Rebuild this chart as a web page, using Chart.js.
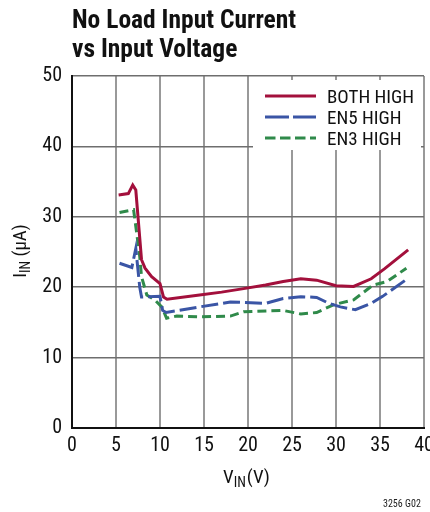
<!DOCTYPE html>
<html><head><meta charset="utf-8">
<script src="https://cdn.jsdelivr.net/npm/chart.js@4"></script>
<style>
html,body{margin:0;padding:0;background:#fff;overflow:hidden;width:430px;height:512px;}
#wrap{position:absolute;left:0;top:0;width:450px;height:512px;}
#title{position:absolute;left:72px;top:5px;font-family:"Roboto Condensed",sans-serif;font-weight:bold;font-size:25.5px;line-height:29px;color:#111;white-space:nowrap;}
#code{position:absolute;left:383px;top:498px;font-family:"Roboto Condensed",sans-serif;font-size:10px;line-height:12px;color:#222;white-space:nowrap;}
</style></head>
<body>
<div id="wrap"><canvas id="c" width="450" height="512"></canvas></div>
<div id="title">No Load Input Current<br>vs Input Voltage</div>
<div id="code">3256 G02</div>
<script>
const FONT = '"Roboto Condensed",sans-serif';
// data
const seriesLabels = ['BOTH HIGH', 'EN5 HIGH', 'EN3 HIGH'];
const bothHighV = [5.3,6.4,6.9,7.25,7.9,8.3,9.05,10,10.4,10.8,14.5,17,19.5,22,24,26,27.8,30,32,34,35.5,38.2];
const bothHighI = [33.1,33.3,34.5,33.8,23.9,22.7,21.5,20.5,18.6,18.3,18.9,19.3,19.8,20.3,20.8,21.2,21.0,20.2,20.1,21.2,22.6,25.3];
const en5HighV = [5.4,6.8,7.25,7.7,7.9,10,10.3,10.7,14.5,18,22,24,26,27.8,29.2,30.5,32.2,34,35.3,38];
const en5HighI = [23.4,22.8,25.5,20,18.6,18.7,16.7,16.4,17.2,17.9,17.7,18.4,18.65,18.55,17.7,17.2,16.8,17.7,18.7,21.1];
const en3HighV = [5.4,7,7.35,7.7,7.9,8.5,9.4,10.2,10.75,11.9,14.5,18,19.5,24,26,27.8,29.7,32,34.2,35.8,38];
const en3HighI = [30.6,31,27.7,24.3,21.5,18.9,18.2,17.2,15.6,15.9,15.8,15.9,16.5,16.7,16.2,16.4,17.5,18.2,20.3,20.8,22.7];
const xTicks = [0,5,10,15,20,25,30,35,40];
const yTicks = [0,10,20,30,40,50];

const pts = (xs, ys) => xs.map((x, i) => ({x, y: ys[i]}));

const legendPlugin = {
  id: 'boxLegend',
  afterDatasetsDraw(chart) {
    const ctx = chart.ctx;
    ctx.save();
    ctx.fillStyle = '#fff';
    ctx.fillRect(253, 80, 168, 70);
    chart.data.datasets.forEach((ds, i) => {
      const y = 96 + i * 21;
      ctx.strokeStyle = ds.borderColor;
      ctx.lineWidth = 3.2;
      ctx.setLineDash(ds.legendDash || []);
      ctx.beginPath(); ctx.moveTo(265, y); ctx.lineTo(316, y); ctx.stroke();
      ctx.setLineDash([]);
      ctx.fillStyle = '#111';
      ctx.font = '19px ' + FONT;
      ctx.textBaseline = 'alphabetic';
      ctx.fillText(ds.label, 327, y + 6.5);
    });
    ctx.restore();
  }
};

const axisTitlePlugin = {
  id: 'axisTitles',
  afterDraw(chart) {
    const ctx = chart.ctx;
    ctx.save();
    ctx.fillStyle = '#111';
    ctx.textBaseline = 'alphabetic';
    const big = '19px ' + FONT, small = '14px ' + FONT;
    // x title
    ctx.font = big; const wV = ctx.measureText('V').width;
    ctx.font = small; const wS = ctx.measureText('IN').width;
    let x = 223;
    const by = 483;
    ctx.font = big; ctx.fillText('V', x, by); x += wV;
    ctx.font = small; ctx.fillText('IN', x, by + 4); x += wS + 1;
    ctx.font = big; ctx.fillText('(V)', x, by);
    // y title
    ctx.translate(26, 251);
    ctx.rotate(-Math.PI / 2);
    ctx.font = big; const wI = ctx.measureText('I').width; const wU = ctx.measureText(' (µA)').width;
    ctx.font = small; const wS2 = ctx.measureText('IN').width;
    let yx = -(wI + wS2 + wU) / 2;
    ctx.font = big; ctx.fillText('I', yx, 0); yx += wI;
    ctx.font = small; ctx.fillText('IN', yx, 4); yx += wS2;
    ctx.font = big; ctx.fillText(' (µA)', yx, 0);
    ctx.restore();
  }
};

new Chart(document.getElementById('c'), {
  type: 'line',
  data: {
    datasets: [
      {label: seriesLabels[0], data: pts(bothHighV, bothHighI), borderColor: '#a3103c', borderWidth: 3},
      {label: seriesLabels[1], data: pts(en5HighV, en5HighI), borderColor: '#3a55a5', borderWidth: 3, borderDash: [17, 5], legendDash: [24, 4]},
      {label: seriesLabels[2], data: pts(en3HighV, en3HighI), borderColor: '#2f8a4a', borderWidth: 3, borderDash: [9, 5], legendDash: [10.5, 4.5]}
    ]
  },
  options: {
    responsive: false,
    animation: false,
    layout: {padding: {top: 76, right: 26, left: 0, bottom: 0}},
    elements: {point: {radius: 0}, line: {tension: 0, fill: false}},
    plugins: {legend: {display: false}, tooltip: {enabled: false}, title: {display: false}},
    scales: {
      x: {
        type: 'linear', min: 0, max: 40,
        afterBuildTicks: s => { s.ticks = xTicks.map(v => ({value: v})); },
        afterFit: s => { s.height = 84; },
        grid: {color: '#999', lineWidth: 2, drawTicks: false},
        border: {color: '#111', width: 2},
        ticks: {color: '#111', font: {family: FONT, size: 20}, padding: 6, maxRotation: 0}
      },
      y: {
        type: 'linear', min: 0, max: 50,
        afterBuildTicks: s => { s.ticks = yTicks.map(v => ({value: v})); },
        afterFit: s => { s.width = 72; },
        grid: {color: '#6e6e6e', lineWidth: 1.5, drawTicks: false},
        border: {color: '#111', width: 2},
        ticks: {color: '#111', font: {family: FONT, size: 20}, padding: 10}
      }
    }
  },
  plugins: [legendPlugin, axisTitlePlugin]
});
</script>
</body></html>
